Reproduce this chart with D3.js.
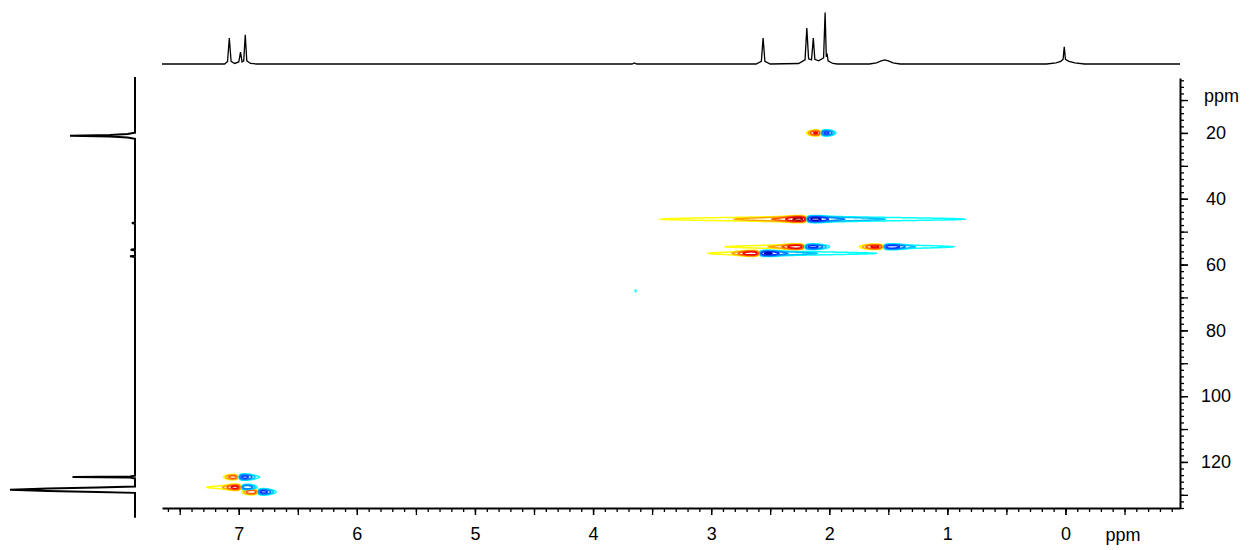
<!DOCTYPE html>
<html>
<head>
<meta charset="utf-8">
<script src="https://cdn.jsdelivr.net/npm/d3@7"></script>
<style>
  body { margin: 0; background: #fff; }
  text { font-family: "Liberation Sans", Arial, sans-serif; }
</style>
</head>
<body>
<svg id="chart" width="1258" height="550"></svg>
<script>
// 1H projection on top: [ppm, intensity]
const protonTrace = [
    [7.65, 0], [7.12, 0], [7.095, 5], [7.08, 50], [7.065, 5], [7.035, 1], [7.0, 4], [6.985, 23], [6.972, 4],
    [6.958, 6], [6.945, 56], [6.932, 6], [6.9, 1], [6.85, 0],
    [3.67, 0], [3.65, 2], [3.63, 0],
    [2.62, 0], [2.575, 5], [2.56, 50], [2.545, 5], [2.5, 0],
    [2.26, 1], [2.205, 8], [2.19, 69], [2.175, 10], [2.15, 8], [2.135, 50], [2.122, 9], [2.09, 6],
    [2.048, 12], [2.035, 99], [2.025, 14], [2.018, 20], [2.01, 6], [1.97, 1], [1.93, 0],
    [1.66, 0], [1.6, 2], [1.56, 6], [1.53, 8], [1.5, 6], [1.46, 2], [1.4, 0],
    [0.16, 0], [0.08, 2], [0.04, 5], [0.02, 9], [0.01, 33], [0.0, 9], [-0.03, 5], [-0.08, 2], [-0.16, 0],
    [-0.97, 0]
];

// 13C projection on the left: [ppm, intensity]
const carbonTrace = [
    [3, 0], [19.9, 0], [20.3, 6], [20.6, 20], [20.85, 52], [21.1, 20], [21.4, 6], [21.8, 0],
    [47.2, 0], [47.4, 2.5], [47.6, 0],
    [55.3, 0], [55.5, 3.5], [55.7, 0], [57.3, 0], [57.5, 4], [57.7, 0],
    [124.2, 0], [124.45, 4], [124.6, 50], [124.75, 4], [125.0, 0],
    [127.5, 0], [127.8, 30], [128.1, 70], [128.45, 100], [128.8, 70], [129.1, 30], [129.4, 0],
    [137, 0]
];

// HSQC cross peaks: [1H ppm, 13C ppm, 1H width, 13C width, warm amp, cool amp, warm tail, cool tail]
const crossPeaks = [
    [2.07, 20.0, 0.045, 0.45, 9, 10, 0, 0],
    [2.19, 46.2, 0.07, 0.45, 12, 12, 1.25, 1.35],
    [2.21, 54.6, 0.07, 0.4, 10, 10, 0.58, 0.22],
    [1.54, 54.6, 0.07, 0.4, 9, 10, 0.2, 0.5],
    [2.59, 56.6, 0.07, 0.4, 12, 12, 0.45, 1.0],
    [3.65, 68.0, 0.01, 0.3, 0, 1.4, 0, 0],
    [7.0, 124.6, 0.05, 0.45, 6, 9, 0, 0.17],
    [6.98, 127.7, 0.05, 0.45, 8, 8, 0.3, 0],
    [6.84, 129.1, 0.05, 0.45, 8, 10, 0, 0.1]
];

const levels = [1, 2, 4, 8, 16];
const warmColors = ['#ffff00', '#ffa500', '#ff5a00', '#e60000', '#a00000'];
const coolColors = ['#00ffff', '#00bfff', '#0080ff', '#0033ff', '#0000b4'];

const xMajor = [7, 6, 5, 4, 3, 2, 1, 0];
const yMajor = [20, 40, 60, 80, 100, 120];

const svg = d3.select('#chart');

const x = d3.scaleLinear().domain([7.65, -0.97]).range([162, 1180]);
const y = d3.scaleLinear().domain([3.3, 134]).range([78, 508]);
const topY = d3.scaleLinear().domain([0, 100]).range([64, 12]);
const sideX = d3.scaleLinear().domain([0, 100]).range([135, 10]);

const [x0, x1] = x.range();
const [y0, y1] = y.range();

svg.append('clipPath').attr('id', 'plot')
    .append('rect').attr('x', x0).attr('y', y0).attr('width', x1 - x0).attr('height', y1 - y0);

// Build the 2D field from the peak table, then contour it
const dx = 1, dy = 0.5;
const nx = Math.round((x1 - x0) / dx), ny = Math.round((y1 - y0) / dy);
const values = new Float64Array(nx * ny);
const hs = d3.range(nx).map(i => x.invert(x0 + (i + 0.5) * dx));
const cs = d3.range(ny).map(j => y.invert(y0 + (j + 0.5) * dy));

crossPeaks.forEach(([h0, c0, gh, sc, aL, aR, tL, tR]) => {
    const bL = tL / (2 * gh), bR = tR / (2 * gh);
    const fx = hs.map(h => {
        const u = (h - h0) / gh;
        const core = u * Math.exp((1 - u * u) / 2);
        const tail = 2 * u / (1 + u * u);
        return u >= 0 ? aL * core + bL * tail : aR * core + bR * tail;
    });
    cs.forEach((c, j) => {
        const g = Math.exp(-0.5 * ((c - c0) / sc) ** 2);
        if (g < 1e-4) return;
        const off = j * nx;
        for (let i = 0; i < nx; i++) values[off + i] += g * fx[i];
    });
});

const negValues = values.map(v => -v);
const contourGen = d3.contours().size([nx, ny]).thresholds(levels);
const toPixels = d3.geoTransform({
    point(px, py) { this.stream.point(x0 + px * dx, y0 + py * dy); }
});
const path = d3.geoPath(toPixels);

const contourLayer = svg.append('g').attr('clip-path', 'url(#plot)')
    .attr('fill', 'none').attr('stroke-width', 1.5).attr('stroke-linejoin', 'round');

contourLayer.selectAll('path.warm')
    .data(contourGen(values))
    .enter().append('path')
    .attr('class', 'warm')
    .attr('d', path)
    .attr('stroke', (d, i) => warmColors[i]);

contourLayer.selectAll('path.cool')
    .data(contourGen(negValues))
    .enter().append('path')
    .attr('class', 'cool')
    .attr('d', path)
    .attr('stroke', (d, i) => coolColors[i]);

// 1D projections
svg.append('path')
    .datum(protonTrace)
    .attr('d', d3.line().x(d => x(d[0])).y(d => topY(d[1])))
    .attr('fill', 'none').attr('stroke', '#000').attr('stroke-width', 1.3);

svg.append('path')
    .datum(carbonTrace)
    .attr('d', d3.line().x(d => sideX(d[1])).y(d => y(d[0])))
    .attr('fill', 'none').attr('stroke', '#000').attr('stroke-width', 2);

// Axes
const xMinor = d3.range(-9, 77).map(d => d / 10);
const xHalf = d3.range(-1, 16).map(d => d / 2);
const yMinor = d3.range(4, 135, 2);
const yTen = d3.range(10, 135, 10);

function styleAxis(g) {
    g.selectAll('line').attr('stroke', '#000').attr('stroke-width', 1.3);
    g.selectAll('.domain').attr('stroke', '#000').attr('stroke-width', 2);
    g.selectAll('text').attr('fill', '#000').style('font-size', '18px');
}

const bottom = svg.append('g').attr('transform', `translate(0,${y1})`);
bottom.append('g').call(d3.axisBottom(x).tickValues(xMinor).tickSize(4).tickSizeOuter(0).tickFormat(''))
    .call(styleAxis);
bottom.append('g').call(d3.axisBottom(x).tickValues(xHalf).tickSize(7).tickSizeOuter(0).tickFormat(''))
    .call(g => g.select('.domain').remove()).call(styleAxis);
bottom.append('g').call(d3.axisBottom(x).tickValues(xMajor).tickSize(7).tickPadding(12).tickFormat(d3.format('d')))
    .call(g => g.select('.domain').remove()).call(styleAxis);
bottom.append('text').attr('x', 1123).attr('y', 33).attr('text-anchor', 'middle')
    .style('font-size', '18px').text('ppm');

const right = svg.append('g').attr('transform', `translate(${x1},0)`);
right.append('g').call(d3.axisRight(y).tickValues(yMinor).tickSize(4).tickSizeOuter(0).tickFormat(''))
    .call(styleAxis);
right.append('g').call(d3.axisRight(y).tickValues(yTen).tickSize(8).tickSizeOuter(0).tickFormat(''))
    .call(g => g.select('.domain').remove()).call(styleAxis);
right.append('g').call(d3.axisRight(y).tickValues(yMajor).tickSize(8).tickPadding(0).tickFormat(d3.format('d')))
    .call(g => g.select('.domain').remove()).call(styleAxis)
    .call(g => g.selectAll('text').attr('x', 36).attr('text-anchor', 'middle'));
right.append('text').attr('x', 24).attr('y', 96).attr('dy', '0.35em')
    .style('font-size', '18px').text('ppm');
</script>
</body>
</html>
